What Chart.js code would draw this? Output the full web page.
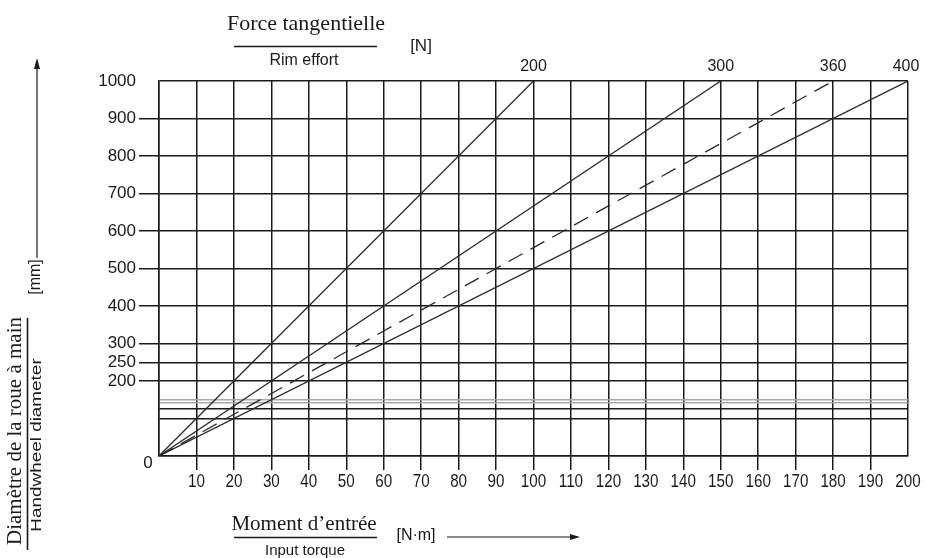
<!DOCTYPE html>
<html lang="fr">
<head>
    <meta charset="UTF-8">
    <title>Force tangentielle / Rim effort</title>
    <style>
        body {
            margin: 0;
            padding: 0;
            background-color: #fff;
        }
        #chart {
            display: block;
        }
    </style>
    <script src="https://cdn.jsdelivr.net/npm/chart.js"></script>
</head>
<body>
    <canvas id="chart" width="926" height="558"></canvas>
    <script>
        // data
        const forceLabels = ['200', '300', '360', '400'];          // rim effort [N]
        const lineEndTorque = [100, 150, 180, 200];                // input torque [N·m] at the top edge
        const lineEndDiameter = [1000, 1000, 1000, 1000];          // handwheel diameter [mm]
        const dashedLines = [false, false, true, false];

        const yGridValues = [0, 100, 125, 143, 150, 200, 250, 300, 400, 500, 600, 700, 800, 900, 1000];
        const yLabelValues = [200, 250, 300, 400, 500, 600, 700, 800, 900, 1000];
        const yTickMarks = [200, 250, 300, 400, 500, 600, 700, 800, 900];
        const grayLines = [143, 150];

        const serif = "'Liberation Serif', 'Times New Roman', serif";
        const sans = "'Liberation Sans', Arial, sans-serif";
        const ink = '#1a1a1a';

        const datasets = forceLabels.map((label, i) => ({
            label: label + ' N',
            data: [{x: 0, y: 0}, {x: lineEndTorque[i], y: lineEndDiameter[i]}],
            showLine: true,
            borderColor: '#2a2a2a',
            borderWidth: 1.3,
            borderDash: dashedLines[i] ? [16, 9] : [],
            pointRadius: 0,
            fill: false
        }));

        // titles, fraction bars, arrows and the line labels
        const annotations = {
            id: 'annotations',
            afterDraw(chart) {
                const c = chart.ctx;
                const area = chart.chartArea;
                const xs = chart.scales.x;
                c.save();
                c.fillStyle = ink;
                c.strokeStyle = ink;
                c.textAlign = 'center';
                c.textBaseline = 'middle';

                // condensed torque labels under the x ticks
                c.font = '19px ' + sans;
                xs.ticks.forEach(t => {
                    if (t.value === 0) return;
                    c.save();
                    c.translate(xs.getPixelForValue(t.value), 482);
                    c.scale(0.8, 1);
                    c.fillText(String(t.value), 0, 0);
                    c.restore();
                });

                // force labels at the top end of each line
                c.font = '16px ' + sans;
                chart.data.datasets.forEach((ds, i) => {
                    const p = chart.getDatasetMeta(i).data[1];
                    c.fillText(forceLabels[i], Math.min(p.x, 906), area.top - 14);
                });

                // origin label
                c.font = '17px ' + sans;
                c.fillText('0', 148, 463);

                // top title
                c.font = '22px ' + serif;
                c.fillText('Force tangentielle', 306, 24);
                c.lineWidth = 1.6;
                c.beginPath();
                c.moveTo(234, 46.5);
                c.lineTo(377, 46.5);
                c.stroke();
                c.font = '16px ' + sans;
                c.fillText('Rim effort', 304, 61);
                c.font = '17px ' + sans;
                c.fillText('[N]', 421, 46);

                // bottom title
                c.font = '21px ' + serif;
                c.fillText('Moment d\u2019entrée', 304, 524);
                c.beginPath();
                c.moveTo(234, 537.5);
                c.lineTo(377, 537.5);
                c.stroke();
                c.font = '15px ' + sans;
                c.fillText('Input torque', 305, 551);
                c.font = '16px ' + sans;
                c.fillText('[N\u00b7m]', 416, 536);
                c.lineWidth = 1.2;
                c.beginPath();
                c.moveTo(447, 537);
                c.lineTo(572, 537);
                c.stroke();
                c.beginPath();
                c.moveTo(580, 537);
                c.lineTo(570, 534);
                c.lineTo(570, 540);
                c.closePath();
                c.fill();

                // left title, rotated
                c.save();
                c.rotate(-Math.PI / 2);
                c.font = '21px ' + serif;
                c.fillText('Diamètre de la roue à main', -431, 15);
                c.font = '18px ' + sans;
                c.save();
                c.translate(-445, 37);
                c.scale(1.05, 0.85);
                c.fillText('Handwheel diameter', 0, 0);
                c.restore();
                c.font = '16px ' + sans;
                c.fillText('[mm]', -277, 36);
                c.restore();
                c.lineWidth = 1.6;
                c.beginPath();
                c.moveTo(27.5, 318);
                c.lineTo(27.5, 550);
                c.stroke();
                c.lineWidth = 1.2;
                c.beginPath();
                c.moveTo(37, 258);
                c.lineTo(37, 68);
                c.stroke();
                c.beginPath();
                c.moveTo(37, 58);
                c.lineTo(34, 69);
                c.lineTo(40, 69);
                c.closePath();
                c.fill();

                c.restore();
            }
        };

        new Chart(document.getElementById('chart'), {
            type: 'scatter',
            data: {datasets: datasets},
            options: {
                responsive: false,
                animation: false,
                layout: {
                    padding: {left: 0, right: 18, top: 81, bottom: 0}
                },
                plugins: {
                    legend: {display: false},
                    tooltip: {enabled: false}
                },
                scales: {
                    x: {
                        type: 'linear',
                        min: 0,
                        max: 200,
                        afterFit(scale) { scale.height = 102; },
                        ticks: {
                            stepSize: 10,
                            autoSkip: false,
                            maxRotation: 0,
                            callback: () => ''
                        },
                        grid: {
                            color: ink,
                            lineWidth: 1.5,
                            tickLength: 14,
                            tickWidth: 1.5,
                            tickColor: ctx => (ctx.tick && (ctx.tick.value === 0 || ctx.tick.value === 200)) ? 'rgba(0,0,0,0)' : ink
                        },
                        border: {display: true, color: ink, width: 1.5}
                    },
                    y: {
                        type: 'linear',
                        min: 0,
                        max: 1000,
                        afterFit(scale) { scale.width = 159; },
                        afterBuildTicks(scale) {
                            scale.ticks = yGridValues.map(v => ({value: v}));
                        },
                        ticks: {
                            autoSkip: false,
                            padding: 3,
                            color: ink,
                            font: {family: sans, size: 17},
                            callback: v => yLabelValues.includes(v) ? v : ''
                        },
                        grid: {
                            color: ctx => (ctx.tick && grayLines.includes(ctx.tick.value)) ? '#a8a8a8' : ink,
                            lineWidth: 1.5,
                            tickLength: 20,
                            tickWidth: 1.5,
                            tickColor: ctx => (ctx.tick && yTickMarks.includes(ctx.tick.value)) ? ink : 'rgba(0,0,0,0)'
                        },
                        border: {display: true, color: ink, width: 1.5}
                    }
                }
            },
            plugins: [annotations]
        });
    </script>
</body>
</html>
